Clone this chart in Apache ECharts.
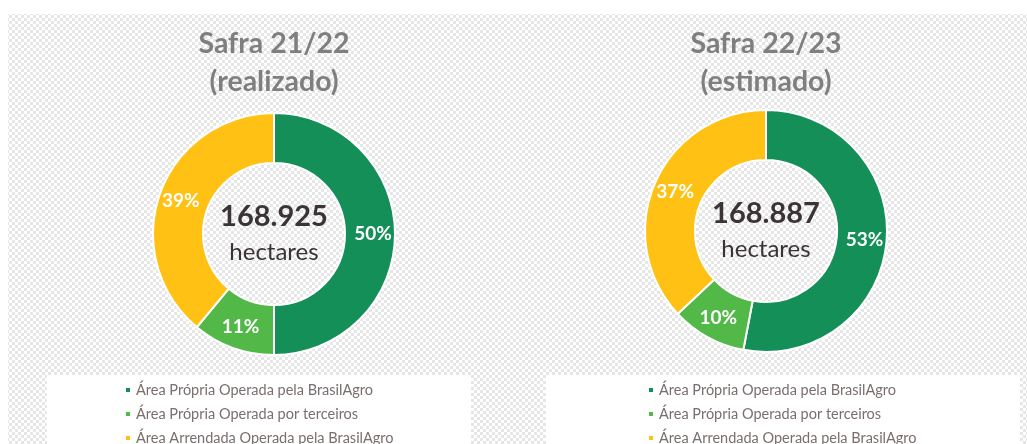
<!DOCTYPE html>
<html>
<head>
<meta charset="utf-8">
<script src="https://cdn.jsdelivr.net/npm/echarts@6/dist/echarts.min.js"></script>
<style>
  html, body { margin: 0; padding: 0; background: #fff; }
  #chart { width: 1027px; height: 444px; }
</style>
</head>
<body>
<div id="chart"></div>
<script>
const CATEGORIES = ['Área Própria Operada pela BrasilAgro', 'Área Própria Operada por terceiros', 'Área Arrendada Operada pela BrasilAgro']
const COLORS     = ['#138f57', '#52b848', '#ffc113']
const SAFRA_2122 = [50, 11, 39]
const SAFRA_2223 = [53, 10, 37]
const TITLES     = ['Safra 21/22\n(realizado)', 'Safra 22/23\n(estimado)']
const TOTALS     = ['168.925', '168.887']
const UNIT       = 'hectares'

const FONT = 'Lato, "Noto Sans", sans-serif'

// fundo quadriculado (tipo padrão do Excel)
function makePattern() {
  const c = document.createElement('canvas')
  c.width = 6; c.height = 6
  const g = c.getContext('2d')
  g.fillStyle = '#ffffff'; g.fillRect(0, 0, 6, 6)
  g.fillStyle = '#e6e6e6'
  g.fillRect(0, 0, 3, 3); g.fillRect(3, 3, 3, 3)
  return c
}

const chart = echarts.init(document.getElementById('chart'), null, { renderer: 'canvas' })

function pieSeries(name, data, center) {
  return {
    type: 'pie', name,
    center, radius: [71, 121],
    startAngle: 90, clockwise: true,
    avoidLabelOverlap: false,
    itemStyle: { borderColor: '#ffffff', borderWidth: 2 },
    label: {
      show: true, position: 'inside',
      color: '#ffffff', fontSize: 19, fontWeight: 'bold', fontFamily: FONT,
      formatter: p => p.value + '%',
    },
    labelLine: { show: false },
    emphasis: { disabled: true },
    data: CATEGORIES.map((c, i) => ({ name: c, value: data[i], itemStyle: { color: COLORS[i] } })),
  }
}

function legendAt(left) {
  return {
    orient: 'vertical', left, top: 382, height: 80, padding: 0,
    icon: 'rect', itemWidth: 6, itemHeight: 6, itemGap: 8,
    selectedMode: false,
    textStyle: { color: '#7a6e6e', fontSize: 14.5, fontFamily: FONT, lineHeight: 16 },
    data: CATEGORIES,
  }
}

const centers = [[274, 234], [766, 231]]

const option = {
  backgroundColor: '#ffffff',
  color: COLORS,
  graphic: [
    { type: 'rect', z: -10, silent: true, shape: { x: 8, y: 14, width: 1019, height: 430 },
      style: { fill: { image: makePattern(), repeat: 'repeat' } } },
    { type: 'rect', z: -5, silent: true, shape: { x: 47, y: 375, width: 424, height: 69 }, style: { fill: '#ffffff' } },
    { type: 'rect', z: -5, silent: true, shape: { x: 546, y: 375, width: 474, height: 69 }, style: { fill: '#ffffff' } },
    ...centers.map((c, i) => ({
      type: 'text', z: 10, silent: true, x: c[0], y: 63,
      style: { text: TITLES[i], fill: '#7f7f7f', font: 'bold 28.5px ' + FONT, align: 'center', verticalAlign: 'middle', lineHeight: 38 },
    })),
    ...centers.map((c, i) => ({
      type: 'text', z: 10, silent: true, x: c[0], y: c[1] - 17,
      style: { text: TOTALS[i], fill: '#3b3335', font: 'bold 29px ' + FONT, align: 'center', verticalAlign: 'middle' },
    })),
    ...centers.map((c, i) => ({
      type: 'text', z: 10, silent: true, x: c[0], y: c[1] + 18,
      style: { text: UNIT, fill: '#3b3335', font: '24px ' + FONT, align: 'center', verticalAlign: 'middle' },
    })),
  ],
  legend: [legendAt(124), legendAt(647)],
  series: [
    pieSeries('Safra 21/22', SAFRA_2122, centers[0]),
    pieSeries('Safra 22/23', SAFRA_2223, centers[1]),
  ],
}
chart.setOption(option)
</script>
</body>
</html>
